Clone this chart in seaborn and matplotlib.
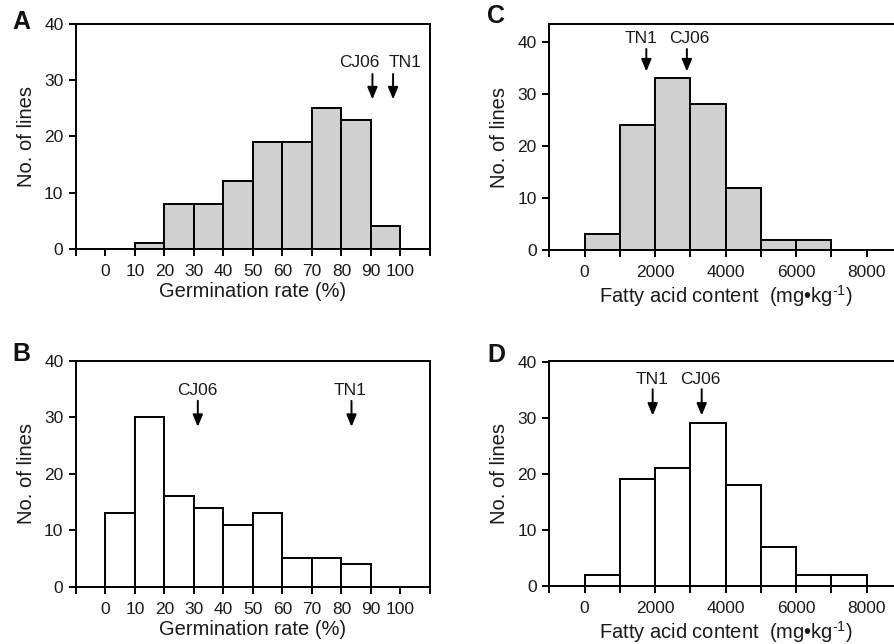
import matplotlib
matplotlib.use("Agg")
import matplotlib.pyplot as plt
import seaborn as sns
import numpy as np
import pandas as pd

sns.set_theme(style="ticks")
plt.rcParams['font.family'] = ['Liberation Sans', 'DejaVu Sans']
plt.rcParams['mathtext.fontset'] = 'custom'
plt.rcParams['mathtext.rm'] = 'Liberation Sans'
plt.rcParams['mathtext.it'] = 'Liberation Sans'
plt.rcParams['mathtext.default'] = 'regular'

# ---------------- data ----------------
germ_edges = [0, 10, 20, 30, 40, 50, 60, 70, 80, 90, 100]
germ_A_counts = [0, 1, 8, 8, 12, 19, 19, 25, 23, 4]
germ_B_counts = [13, 30, 16, 14, 11, 13, 5, 5, 4, 0]

fatty_edges = [0, 1000, 2000, 3000, 4000, 5000, 6000, 7000, 8000]
fatty_C_counts = [3, 24, 33, 28, 12, 2, 2, 0]
fatty_D_counts = [2, 19, 21, 29, 18, 7, 2, 2]

parents_A = {"CJ06": 90.5, "TN1": 97.5}
parents_B = {"CJ06": 31.3, "TN1": 83.4}
parents_C = {"TN1": 1750, "CJ06": 2900}
parents_D = {"TN1": 1930, "CJ06": 3320}

germ_ticks = list(range(-10, 111, 10))
germ_ticklabels = [str(t) if 0 <= t <= 100 else "" for t in germ_ticks]
fatty_ticks = list(range(-1000, 9001, 1000))
fatty_ticklabels = [str(t) if (t >= 0 and t % 2000 == 0) else "" for t in fatty_ticks]
y_ticks = [0, 10, 20, 30, 40]

GREY = "#d0d0d0"
LW = 1.4

fig = plt.figure(figsize=(8.95, 6.44), dpi=100)
axA = fig.add_axes([0.0849, 0.6134, 0.3955, 0.3494])
axC = fig.add_axes([0.6138, 0.6118, 0.3940, 0.3509])
axB = fig.add_axes([0.0849, 0.0890, 0.3955, 0.3509])
axD = fig.add_axes([0.6138, 0.0905, 0.3940, 0.3494])


def draw_hist(ax, edges, counts, color):
    e = np.array(edges, dtype=float)
    centers = (e[:-1] + e[1:]) / 2
    df = pd.DataFrame({"x": centers, "w": counts})
    sns.histplot(data=df, x="x", weights="w", bins=list(edges), ax=ax, color=color,
                 edgecolor="black", linewidth=LW, alpha=1, stat="count")


def style(ax, xticks, xticklabels, xlim, ylim, xlabel):
    ax.set_xlim(*xlim)
    ax.set_ylim(*ylim)
    ax.set_xticks(xticks)
    ax.set_xticklabels(xticklabels)
    ax.set_yticks(y_ticks)
    ax.set_yticklabels([str(t) for t in y_ticks])
    ax.tick_params(axis='both', direction='out', length=5, width=LW,
                   labelsize=12.5, color='black', labelcolor='#1a1a1a')
    ax.tick_params(axis='x', pad=6)
    ax.tick_params(axis='y', pad=4)
    for s in ax.spines.values():
        s.set_linewidth(LW)
        s.set_color('black')
    ax.set_xlabel(xlabel, fontsize=14.5, labelpad=2, color='#1a1a1a')
    ax.set_ylabel("No. of lines", fontsize=14.5, labelpad=6, color='#1a1a1a')
    ax.set_facecolor('white')


def arrows(ax, parents, x_text, y_top, y_tip, y_text):
    for name, xv in parents.items():
        ax.annotate("", xy=(xv, y_tip), xytext=(xv, y_top),
                    arrowprops=dict(arrowstyle="-|>,head_length=0.6,head_width=0.25",
                                    color="black", lw=1.4, shrinkA=0, shrinkB=0))
        ax.text(x_text[name], y_text, name, ha="center", va="center",
                fontsize=12.5, color='#1a1a1a')


draw_hist(axA, germ_edges, germ_A_counts, GREY)
style(axA, germ_ticks, germ_ticklabels, (-10, 110), (0, 40), "Germination rate (%)")
arrows(axA, parents_A, {"CJ06": 86.1, "TN1": 101.6}, 31.1, 26.6, 33.1)

draw_hist(axB, germ_edges, germ_B_counts, "white")
style(axB, germ_ticks, germ_ticklabels, (-10, 110), (0, 40), "Germination rate (%)")
arrows(axB, parents_B, {"CJ06": 31.2, "TN1": 83.0}, 32.9, 28.3, 34.8)

flab = "Fatty acid content  (mg\u2022kg$^{\u2010 1}$)"
draw_hist(axC, fatty_edges, fatty_C_counts, GREY)
style(axC, fatty_ticks, fatty_ticklabels, (-1000, 9000), (0, 43.4), flab)
arrows(axC, parents_C, {"TN1": 1590, "CJ06": 2970}, 38.6, 34.3, 40.7)

draw_hist(axD, fatty_edges, fatty_D_counts, "white")
style(axD, fatty_ticks, fatty_ticklabels, (-1000, 9000), (0, 40.2), flab)
arrows(axD, parents_D, {"TN1": 1906, "CJ06": 3283}, 35.1, 30.4, 36.8)

for lab, (x, y) in {"A": (21, 22), "C": (496, 16), "B": (21, 354), "D": (496, 355)}.items():
    fig.text(x / 895, 1 - y / 644, lab, fontsize=18, fontweight='bold',
             ha='center', va='center', color='#111111')

fig.savefig("out.png", dpi=100, facecolor='white')
